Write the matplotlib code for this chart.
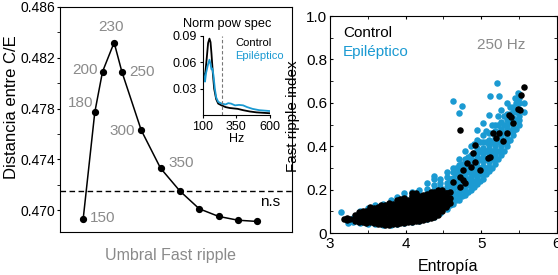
import numpy as np
import matplotlib.pyplot as plt
from matplotlib.ticker import MultipleLocator

plt.rcParams['font.family'] = ['Liberation Sans', 'DejaVu Sans']

# Panel izquierdo: distancia Control/Epileptico segun umbral
umbral = [150, 180, 200, 230, 250, 300, 350, 400, 450, 500, 550, 600]
distancia = [0.4693, 0.4777, 0.4809, 0.4832, 0.4809, 0.4763, 0.4733,
             0.4715, 0.4701, 0.4695, 0.4692, 0.4691]
etiquetas = ['150', '180', '200', '230', '250', '300', '350']
nivel_ns = 0.4715

# Inset: espectro de potencia normalizado
hz_ctrl = [100, 110, 118, 130, 140, 150, 158, 165, 175, 185, 200, 215, 240,
           270, 300, 330, 360, 400, 450, 500, 550, 600]
pow_ctrl = [0.050, 0.045, 0.046, 0.065, 0.082, 0.087, 0.083, 0.070, 0.048,
            0.030, 0.018, 0.013, 0.011, 0.009, 0.008, 0.0075, 0.007, 0.0055,
            0.004, 0.003, 0.0025, 0.002]
hz_epi = [100, 110, 117, 125, 140, 150, 158, 165, 172, 180, 190, 200, 215,
          240, 270, 290, 310, 340, 370, 400, 430, 470, 520, 560, 600]
pow_epi = [0.055, 0.042, 0.038, 0.048, 0.058, 0.063, 0.058, 0.052, 0.053,
           0.045, 0.030, 0.020, 0.015, 0.013, 0.012, 0.0135, 0.013, 0.011,
           0.0115, 0.011, 0.009, 0.007, 0.0055, 0.005, 0.0045]
hz_corte = 240

# Panel derecho: entropia vs fast ripple index (por columnas)
ctrl_col_x = [3.18, 3.22, 3.27, 3.33, 3.38, 3.43, 3.48, 3.53, 3.58, 3.63, 3.68,
              3.73, 3.78, 3.83, 3.88, 3.93, 3.98, 4.03, 4.08, 4.13, 4.18, 4.23,
              4.28, 4.33, 4.38, 4.43, 4.48, 4.53, 4.58]
ctrl_col_y = [
    [0.065], [0.06, 0.07], [0.065], [0.055, 0.07, 0.085],
    [0.05, 0.065, 0.08, 0.095], [0.05, 0.065, 0.085, 0.10],
    [0.045, 0.06, 0.08, 0.10], [0.05, 0.07, 0.09, 0.11, 0.118],
    [0.045, 0.06, 0.08, 0.10, 0.115], [0.04, 0.06, 0.08, 0.10, 0.12],
    [0.04, 0.055, 0.075, 0.095, 0.115, 0.13],
    [0.035, 0.05, 0.07, 0.09, 0.11, 0.13],
    [0.035, 0.05, 0.07, 0.09, 0.11, 0.13, 0.14],
    [0.04, 0.055, 0.075, 0.095, 0.115, 0.135],
    [0.04, 0.06, 0.08, 0.10, 0.12, 0.14, 0.15],
    [0.045, 0.06, 0.08, 0.10, 0.12, 0.14, 0.155],
    [0.045, 0.065, 0.085, 0.105, 0.125, 0.145, 0.16],
    [0.05, 0.07, 0.09, 0.11, 0.13, 0.15],
    [0.05, 0.07, 0.09, 0.11, 0.13, 0.15, 0.17, 0.186],
    [0.055, 0.075, 0.095, 0.115, 0.135, 0.155, 0.17, 0.183],
    [0.055, 0.075, 0.095, 0.115, 0.135, 0.155, 0.17],
    [0.06, 0.08, 0.10, 0.12, 0.14, 0.16, 0.175],
    [0.065, 0.085, 0.105, 0.125, 0.145, 0.165, 0.18],
    [0.07, 0.09, 0.11, 0.13, 0.15, 0.17, 0.19],
    [0.075, 0.095, 0.115, 0.135, 0.155, 0.175, 0.19],
    [0.085, 0.105, 0.125, 0.145, 0.165, 0.185, 0.20],
    [0.10, 0.12, 0.14, 0.16, 0.18, 0.20],
    [0.12, 0.14, 0.16, 0.183],
    [0.14, 0.16, 0.19],
]
ctrl_extra_x = [4.55, 4.46, 4.55, 4.63, 4.72, 4.78, 4.76, 4.72, 4.76, 4.81,
                4.87, 4.98, 4.92, 4.89, 5.09, 5.11, 4.92, 4.72, 5.16, 5.24,
                5.34, 5.20, 5.28, 5.36, 5.39, 5.42, 5.48, 5.51, 5.52, 5.56]
ctrl_extra_y = [0.129, 0.152, 0.183, 0.236, 0.213, 0.229, 0.244, 0.259, 0.29,
                0.321, 0.306, 0.29, 0.329, 0.367, 0.344, 0.352, 0.406, 0.475,
                0.462, 0.459, 0.462, 0.436, 0.424, 0.544, 0.533, 0.505, 0.57,
                0.567, 0.636, 0.671]

epi_col_x = [3.15, 3.24, 3.30, 3.40, 3.50, 3.60, 3.70, 3.80, 3.88, 3.98, 4.08,
             4.18, 4.28, 4.38, 4.46, 4.54, 4.62, 4.70, 4.78, 4.86, 4.94, 5.02,
             5.10, 5.18, 5.26, 5.34, 5.42, 5.50, 5.56,
             4.58, 4.66, 4.74, 4.82, 4.90, 4.98, 5.06, 5.14, 5.22, 5.30,
             5.38, 5.46]
epi_col_y = [
    [0.098], [0.047], [0.05, 0.07], [0.045, 0.06, 0.08, 0.10],
    [0.04, 0.06, 0.08, 0.10, 0.115],
    [0.04, 0.06, 0.08, 0.10, 0.12, 0.13],
    [0.035, 0.055, 0.075, 0.095, 0.115, 0.135],
    [0.035, 0.055, 0.075, 0.095, 0.115, 0.135, 0.15],
    [0.04, 0.06, 0.08, 0.10, 0.12, 0.14, 0.164],
    [0.045, 0.065, 0.085, 0.105, 0.125, 0.145, 0.165, 0.186],
    [0.05, 0.07, 0.09, 0.11, 0.13, 0.15, 0.17, 0.19],
    [0.055, 0.075, 0.095, 0.115, 0.135, 0.155, 0.175, 0.20],
    [0.065, 0.085, 0.105, 0.125, 0.145, 0.165, 0.185, 0.205, 0.229],
    [0.075, 0.095, 0.12, 0.14, 0.16, 0.18, 0.20, 0.22, 0.25, 0.263],
    [0.09, 0.11, 0.13, 0.15, 0.17, 0.19, 0.21, 0.23, 0.25],
    [0.11, 0.13, 0.15, 0.17, 0.19, 0.21, 0.23, 0.26, 0.28],
    [0.135, 0.155, 0.175, 0.195, 0.215, 0.235, 0.255, 0.28, 0.30],
    [0.15, 0.17, 0.19, 0.21, 0.23, 0.25, 0.27, 0.29, 0.315, 0.34],
    [0.175, 0.195, 0.215, 0.235, 0.255, 0.275, 0.295, 0.32, 0.34, 0.38],
    [0.20, 0.22, 0.24, 0.26, 0.28, 0.30, 0.32, 0.34, 0.36, 0.40],
    [0.225, 0.245, 0.265, 0.285, 0.305, 0.325, 0.345, 0.365, 0.39, 0.43, 0.475],
    [0.25, 0.27, 0.29, 0.31, 0.33, 0.35, 0.37, 0.39, 0.42, 0.45, 0.505],
    [0.285, 0.305, 0.325, 0.345, 0.365, 0.385, 0.405, 0.43, 0.46, 0.544],
    [0.32, 0.34, 0.36, 0.38, 0.40, 0.42, 0.44, 0.47, 0.50],
    [0.36, 0.38, 0.40, 0.42, 0.44, 0.46, 0.48, 0.51, 0.567],
    [0.40, 0.42, 0.44, 0.46, 0.48, 0.50, 0.52, 0.55, 0.60],
    [0.45, 0.47, 0.49, 0.51, 0.53, 0.56, 0.58],
    [0.50, 0.52, 0.54, 0.57, 0.60, 0.62, 0.64],
    [0.56, 0.60],
    [0.13, 0.16, 0.19, 0.22, 0.25],
    [0.15, 0.18, 0.21, 0.24, 0.27, 0.30],
    [0.17, 0.20, 0.23, 0.26, 0.29, 0.32],
    [0.19, 0.22, 0.25, 0.28, 0.31, 0.35],
    [0.21, 0.24, 0.27, 0.30, 0.33, 0.37, 0.41],
    [0.24, 0.27, 0.30, 0.34, 0.38, 0.42],
    [0.27, 0.30, 0.34, 0.38, 0.42, 0.47],
    [0.30, 0.34, 0.38, 0.42, 0.46, 0.50],
    [0.34, 0.38, 0.42, 0.46, 0.50, 0.54],
    [0.38, 0.42, 0.46, 0.50, 0.54],
    [0.43, 0.47, 0.51, 0.55],
    [0.48, 0.52, 0.56, 0.60],
]
epi_extra_x = [4.63, 4.74, 4.70, 5.12, 5.21, 5.24, 5.38, 5.48, 5.45]
epi_extra_y = [0.61, 0.585, 0.555, 0.63, 0.69, 0.63, 0.58, 0.645, 0.62]

azul = '#1B9AD2'
gris = '#8a8a8a'


def columnas(cx, cy, ex, ey):
    xs, ys = [], []
    for x, col in zip(cx, cy):
        xs += [x] * len(col)
        ys += col
    return np.array(xs + ex), np.array(ys + ey)


fig = plt.figure(figsize=(5.58, 2.75), dpi=100)

# ---- panel izquierdo
ax1 = fig.add_axes([0.1075, 0.1564, 0.4158, 0.8182])
ax1.plot(umbral, distancia, '-o', color='k', lw=1.1, ms=4.2)
ax1.axhline(nivel_ns, color='k', lw=1, ls=(0, (4, 2.5)))
ax1.set_xlim(90, 690)
ax1.set_ylim(0.46827, 0.486)
ax1.set_xticks([])
ax1.set_yticks([0.470, 0.474, 0.478, 0.482, 0.486])
ax1.yaxis.set_minor_locator(MultipleLocator(0.002))
ax1.yaxis.set_major_formatter('{x:.3f}')
ax1.tick_params(axis='y', which='both', direction='out', length=2.5,
                labelsize=10, pad=1)
ax1.set_ylabel('Distancia entre C/E', fontsize=12)
ax1.yaxis.set_label_coords(-0.177, 0.556)
ax1.set_xlabel('Umbral Fast ripple', fontsize=11.5, color=gris)
ax1.xaxis.set_label_coords(0.478, -0.071)
for sp in ax1.spines.values():
    sp.set_linewidth(0.8)

# desplazamientos de etiquetas (pixeles)
offs = [(7, 1, 'left'), (-1, 9, 'right'), (-5, 2, 'right'), (-3.5, 16, 'center'),
        (7, 0, 'left'), (-6, -1, 'right'), (8, 5, 'left')]
for u, d, lab, (dx, dy, ha) in zip(umbral, distancia, etiquetas, offs):
    ax1.annotate(lab, (u, d), xytext=(dx, dy), textcoords='offset pixels',
                 ha=ha, va='center', fontsize=11, color=gris)
ax1.annotate('n.s', (umbral[-1], nivel_ns), xytext=(13, -11),
             textcoords='offset pixels', ha='center', va='center', fontsize=11)

# ---- inset
ax_in = fig.add_axes([0.3633, 0.5818, 0.1206, 0.2873])
ax_in.patch.set_alpha(0)
ax_in.plot(hz_ctrl, pow_ctrl, color='k', lw=1.3)
ax_in.plot(hz_epi, pow_epi, color=azul, lw=1.3)
ax_in.axvline(hz_corte, color='#777777', lw=0.8, ls=(0, (3, 2)))
ax_in.set_xlim(100, 600)
ax_in.set_ylim(0, 0.09)
ax_in.set_xticks([100, 350, 600])
ax_in.set_yticks([0.03, 0.06, 0.09])
ax_in.yaxis.set_major_formatter('{x:.2f}')
ax_in.tick_params(direction='out', length=2.5, labelsize=9, pad=1.5)
ax_in.spines['top'].set_visible(False)
ax_in.spines['right'].set_visible(False)
ax_in.set_xlabel('Hz', fontsize=9, labelpad=0)
ax_in.text(0.37, 1.15, 'Norm pow spec', transform=ax_in.transAxes,
           ha='center', va='center', fontsize=9.2)
ax_in.text(0.48, 0.915, 'Control', transform=ax_in.transAxes,
           ha='left', va='center', fontsize=8)
ax_in.text(0.48, 0.747, 'Epiléptico', transform=ax_in.transAxes,
           ha='left', va='center', fontsize=8, color=azul)

# ---- panel derecho
ax2 = fig.add_axes([0.5914, 0.1527, 0.4068, 0.789])
ex, ey = columnas(epi_col_x, epi_col_y, epi_extra_x, epi_extra_y)
cx, cy = columnas(ctrl_col_x, ctrl_col_y, ctrl_extra_x, ctrl_extra_y)
ax2.scatter(ex, ey, s=22, color=azul, linewidths=0)
ax2.scatter(cx, cy, s=22, color='k', linewidths=0)
ax2.set_xlim(3, 6)
ax2.set_ylim(0, 1)
ax2.set_xticks([3, 4, 5, 6])
ax2.xaxis.set_minor_locator(MultipleLocator(0.5))
ax2.set_yticks([0, 0.2, 0.4, 0.6, 0.8, 1.0])
ax2.set_yticklabels(['0', '0.2', '0.4', '0.6', '0.8', '1.0'])
ax2.yaxis.set_minor_locator(MultipleLocator(0.1))
ax2.tick_params(which='both', direction='in', length=2.5, labelsize=11,
                top=True, right=True, pad=2)
ax2.tick_params(axis='x', pad=3)
ax2.set_xlabel('Entropía', fontsize=11.5)
ax2.xaxis.set_label_coords(0.52, -0.118)
ax2.set_ylabel('Fast ripple index', fontsize=11)
ax2.yaxis.set_label_coords(-0.132, 0.539)
ax2.text(0.057, 0.922, 'Control', transform=ax2.transAxes, va='center',
         fontsize=11)
ax2.text(0.057, 0.834, 'Epiléptico', transform=ax2.transAxes, va='center',
         fontsize=11, color=azul)
ax2.text(0.648, 0.866, '250 Hz', transform=ax2.transAxes, va='center',
         fontsize=11, color=gris)
for sp in ax2.spines.values():
    sp.set_linewidth(0.8)

fig.savefig('out.png', dpi=100)
